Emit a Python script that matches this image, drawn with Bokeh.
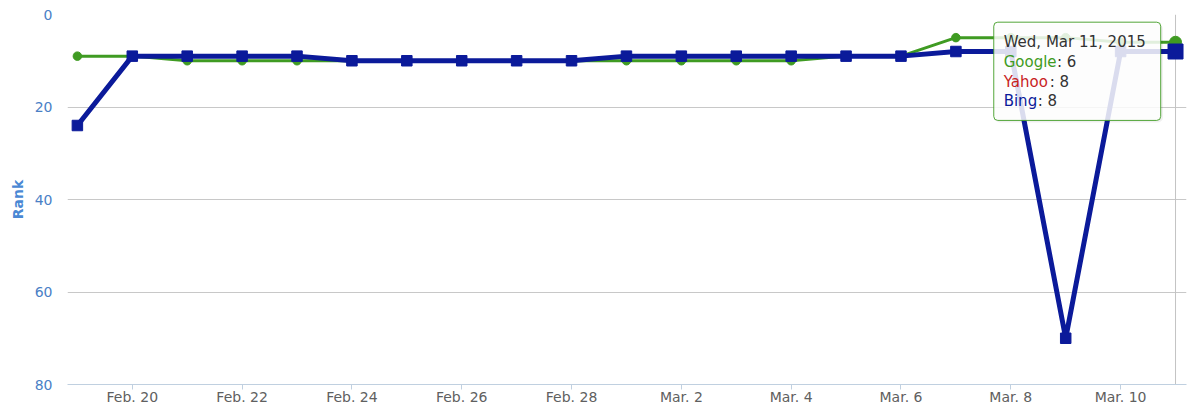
import pandas as pd
from bokeh.plotting import figure
from bokeh.models import Range1d, FixedTicker, Span, BoxAnnotation, Label
from bokeh.embed import file_html
from bokeh.resources import INLINE

# ---- data ----
dates = ["2015-02-19", "2015-02-20", "2015-02-21", "2015-02-22", "2015-02-23",
         "2015-02-24", "2015-02-25", "2015-02-26", "2015-02-27", "2015-02-28",
         "2015-03-01", "2015-03-02", "2015-03-03", "2015-03-04", "2015-03-05",
         "2015-03-06", "2015-03-07", "2015-03-08", "2015-03-09", "2015-03-10",
         "2015-03-11"]
google = [9, 9, 10, 10, 10, 10, 10, 10, 10, 10, 10, 10, 10, 10, 9, 9, 5, 5, 5, 6, 6]
yahoo = [24, 9, 9, 9, 9, 10, 10, 10, 10, 10, 9, 9, 9, 9, 9, 9, 8, 8, 70, 8, 8]
bing = [24, 9, 9, 9, 9, 10, 10, 10, 10, 10, 9, 9, 9, 9, 9, 9, 8, 8, 70, 8, 8]

tick_dates = ["2015-02-20", "2015-02-22", "2015-02-24", "2015-02-26", "2015-02-28",
              "2015-03-02", "2015-03-04", "2015-03-06", "2015-03-08", "2015-03-10"]
tick_labels = ["Feb. 20", "Feb. 22", "Feb. 24", "Feb. 26", "Feb. 28",
               "Mar. 2", "Mar. 4", "Mar. 6", "Mar. 8", "Mar. 10"]
y_ticks = [0, 20, 40, 60, 80]

tooltip_title = "Wed, Mar 11, 2015"
series_names = ["Google", "Yahoo", "Bing"]

GREEN = "#3f9b22"
RED = "#c81e1e"
NAVY = "#0b1a9a"
FONT = "DejaVu Sans"
DAY = 86400000


def ms(d):
    return int(pd.Timestamp(d).value // 10**6)


x = [ms(d) for d in dates]
last = x[-1]

p = figure(width=1194, height=407, output_backend="svg", toolbar_location=None,
           x_axis_type="datetime",
           x_range=Range1d(x[0] - 0.18 * DAY, last + 0.2 * DAY),
           y_range=Range1d(80, 0),
           min_border_left=67, min_border_right=8, min_border_top=14,
           min_border_bottom=0)
p.outline_line_color = None
p.background_fill_color = "white"
p.border_fill_color = "white"

# crosshair
p.add_layout(Span(location=last, dimension="height", line_color="#C4C4C4",
                  line_width=1, level="underlay"))

# series
p.line(x, google, color=GREEN, line_width=3, line_join="round")
p.scatter(x, google, marker="circle", size=8.5, color=GREEN)
p.line(x, yahoo, color=RED, line_width=2, line_join="round")
p.scatter(x, yahoo, marker="diamond", size=6, color=RED)
p.line(x, bing, color=NAVY, line_width=5, line_join="round")
p.scatter(x, bing, marker="square", size=10.5, color=NAVY)

# hovered points
p.scatter([x[-1]], [google[-1]], marker="circle", size=12, color=GREEN)
p.scatter([x[-1]], [bing[-1]], marker="square", size=15, color=NAVY)

# axes
p.xgrid.grid_line_color = None
p.ygrid.grid_line_color = "#C8C8C8"
p.ygrid.grid_line_width = 1

xa = p.xaxis[0]
xa.ticker = FixedTicker(ticks=[ms(d) for d in tick_dates])
xa.major_label_overrides = {ms(d): lab for d, lab in zip(tick_dates, tick_labels)}
xa.axis_line_color = "#C0D0E0"
xa.major_tick_line_color = "#C0D0E0"
xa.major_tick_in = 0
xa.major_tick_out = 5
xa.minor_tick_line_color = None
xa.major_label_standoff = -1
xa.major_label_text_font = FONT
xa.major_label_text_font_size = "14px"
xa.major_label_text_color = "#606060"

ya = p.yaxis[0]
ya.ticker = FixedTicker(ticks=y_ticks)
ya.axis_line_color = None
ya.major_tick_line_color = None
ya.minor_tick_line_color = None
ya.major_tick_out = 0
ya.major_tick_in = 0
ya.major_label_standoff = 15
ya.major_label_text_font = FONT
ya.major_label_text_font_size = "14px"
ya.major_label_text_color = "#4a80c6"
ya.axis_label = "Rank"
ya.axis_label_text_font = FONT
ya.axis_label_text_font_size = "14px"
ya.axis_label_text_font_style = "bold"
ya.axis_label_text_color = "#4a88d4"
ya.axis_label_standoff = 6

# tooltip shadow + box
p.add_layout(BoxAnnotation(left=last - 3.31 * DAY + 0.02 * DAY, right=last - 0.27 * DAY + 0.04 * DAY,
                           top=1.66 + 0.4, bottom=22.9 + 0.45,
                           fill_color="black", fill_alpha=0.06, line_color=None,
                           border_radius=5, level="overlay"))
p.add_layout(BoxAnnotation(left=last - 3.31 * DAY, right=last - 0.27 * DAY,
                           top=1.66, bottom=22.9,
                           fill_color="white", fill_alpha=0.85,
                           line_color=GREEN, line_width=1, line_alpha=0.9,
                           border_radius=4, level="overlay"))

tx = last - 3.13 * DAY
p.add_layout(Label(x=tx, y=6.0, text=tooltip_title, text_font=FONT,
                   text_font_size="15px", text_color="#333333",
                   text_baseline="middle", level="overlay"))
vals = [google[-1], yahoo[-1], bing[-1]]
colors = [GREEN, RED, NAVY]
row_y = [10.3, 14.5, 18.6]
name_end = [-2.16, -2.29, -2.51]
for name, v, c, yy, ne in zip(series_names, vals, colors, row_y, name_end):
    p.add_layout(Label(x=tx, y=yy, text=name, text_font=FONT,
                       text_font_size="15px", text_color=c,
                       text_baseline="middle", level="overlay"))
    p.add_layout(Label(x=last + ne * DAY, y=yy, text=": %d" % v, text_font=FONT,
                       text_font_size="15px", text_color="#333333",
                       text_baseline="middle", level="overlay"))

open("out.html", "w").write(file_html(p, INLINE))
